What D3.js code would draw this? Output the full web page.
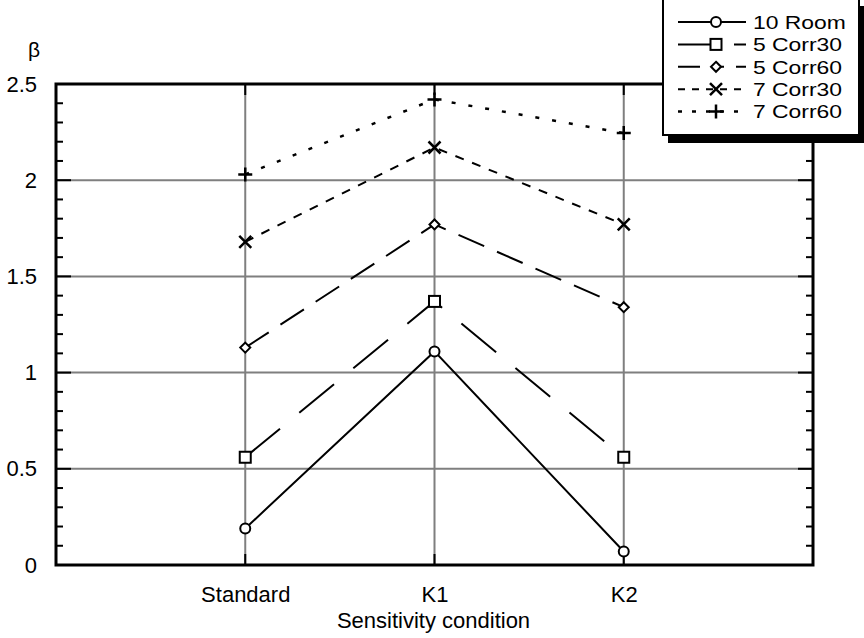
<!DOCTYPE html>
<html><head><meta charset="utf-8">
<script src="https://cdn.jsdelivr.net/npm/d3@7"></script>
<style>body{margin:0;background:#fff}svg{display:block}text{font-family:"Liberation Sans",Arial,sans-serif;fill:#000}</style>
</head><body><svg id="c" width="864" height="638"></svg>
<script>
const categories = ["Standard", "K1", "K2"];
const seriesNames = ["10 Room", "5 Corr30", "5 Corr60", "7 Corr30", "7 Corr60"];
const room10   = [0.19, 1.11, 0.07];
const corr30_5 = [0.56, 1.37, 0.56];
const corr60_5 = [1.13, 1.77, 1.34];
const corr30_7 = [1.68, 2.17, 1.77];
const corr60_7 = [2.03, 2.42, 2.245];
const yTicks = [0, 0.5, 1, 1.5, 2, 2.5];
const seriesValues = [room10, corr30_5, corr60_5, corr30_7, corr60_7];
const markers = ["circle", "square", "diamond", "x", "plus"];
const dashes = [null, "45,25", "28,14", "9,9", "4,13"];
const legendDashes = [null, "34,22,7,0", "22,12,12,12", "7,7", "4,10"];

const svg = d3.select("#c");
const L = 56, R = 813, T = 84, B = 565;
const x = d3.scaleLinear().domain([0, categories.length + 1]).range([L, R]);
const y = d3.scaleLinear().domain([0, 2.5]).range([B, T]);
const FS = 22;

// grid
const grid = svg.append("g").attr("stroke", "#7f7f7f").attr("stroke-width", 2);
categories.forEach((c, i) => grid.append("line").attr("x1", x(i+1)).attr("x2", x(i+1)).attr("y1", T).attr("y2", B));
yTicks.slice(1, -1).forEach(v => grid.append("line").attr("x1", L).attr("x2", R).attr("y1", y(v)).attr("y2", y(v)));

// minor/major ticks on left and right, inward
const minor = d3.range(0, 2.5001, 0.1);
const tk = svg.append("g").attr("stroke", "#000").attr("stroke-width", 2);
minor.forEach(v => {
  const major = Math.abs(v*2 - Math.round(v*2)) < 1e-6;
  const len = major ? 15 : 7;
  tk.append("line").attr("x1", L).attr("x2", L+len).attr("y1", y(v)).attr("y2", y(v));
  tk.append("line").attr("x1", R).attr("x2", R-len).attr("y1", y(v)).attr("y2", y(v));
});
categories.forEach((c, i) => {
  tk.append("line").attr("x1", x(i+1)).attr("x2", x(i+1)).attr("y1", B).attr("y2", B-11);
  tk.append("line").attr("x1", x(i+1)).attr("x2", x(i+1)).attr("y1", T).attr("y2", T+11);
});
// frame
svg.append("rect").attr("x", L).attr("y", T).attr("width", R-L).attr("height", B-T)
  .attr("fill", "none").attr("stroke", "#000").attr("stroke-width", 3);

// axes via d3 for labels
const yAxis = d3.axisLeft(y).tickValues(yTicks).tickFormat(d3.format("")).tickSize(0).tickPadding(19);
const ya = svg.append("g").attr("transform", `translate(${L},0)`).call(yAxis);
ya.select(".domain").remove();
ya.selectAll("text").attr("font-size", FS).attr("font-family", "Liberation Sans, Arial, sans-serif");

const xAxis = d3.axisBottom(x).tickValues([1,2,3]).tickFormat(d => categories[d-1]).tickSize(0).tickPadding(21);
const xa = svg.append("g").attr("transform", `translate(0,${B})`).call(xAxis);
xa.select(".domain").remove();
xa.selectAll("text").attr("font-size", FS).attr("font-family", "Liberation Sans, Arial, sans-serif");

svg.append("text").attr("x", (L+R)/2 - 1).attr("y", 628).attr("text-anchor", "middle").attr("font-size", FS).text("Sensitivity condition");
svg.append("text").attr("x", 34).attr("y", 57).attr("text-anchor", "middle").attr("font-size", 21).attr("font-family", "DejaVu Serif, serif").text("β");

function drawMarker(g, type, cx, cy) {
  const m = g.append("g").attr("stroke", "#000").attr("stroke-width", 2).attr("fill", "#fff");
  if (type === "circle") m.append("circle").attr("cx", cx).attr("cy", cy).attr("r", 5);
  else if (type === "square") m.append("rect").attr("x", cx-5.5).attr("y", cy-5.5).attr("width", 11).attr("height", 11);
  else if (type === "diamond") m.append("path").attr("d", `M${cx},${cy-5}L${cx+5},${cy}L${cx},${cy+5}L${cx-5},${cy}Z`);
  else if (type === "x") m.append("path").attr("fill", "none").attr("stroke-width", 2.5).attr("d", `M${cx-6},${cy-6}L${cx+6},${cy+6}M${cx-6},${cy+6}L${cx+6},${cy-6}`);
  else if (type === "plus") m.append("path").attr("fill", "none").attr("stroke-width", 2.5).attr("d", `M${cx-7},${cy}L${cx+7},${cy}M${cx},${cy-7}L${cx},${cy+7}`);
}

const line = d3.line().x((d, i) => x(i+1)).y(d => y(d));
seriesValues.forEach((vals, k) => {
  const g = svg.append("g");
  g.append("path").datum(vals).attr("d", line).attr("fill", "none").attr("stroke", "#000")
    .attr("stroke-width", k === 4 ? 2.5 : 2).attr("stroke-dasharray", dashes[k]);
  vals.forEach((v, i) => drawMarker(g, markers[k], x(i+1), y(v)));
});

// legend
const lg = svg.append("g");
lg.append("rect").attr("x", 668).attr("y", 6).attr("width", 196).attr("height", 137).attr("fill", "#000");
lg.append("rect").attr("x", 663).attr("y", -2).attr("width", 196).attr("height", 137).attr("fill", "#fff").attr("stroke", "#000").attr("stroke-width", 2);
seriesNames.forEach((n, k) => {
  const cy = 22 + k * 22.4;
  lg.append("line").attr("x1", 678).attr("x2", 746).attr("y1", cy).attr("y2", cy).attr("stroke", "#000")
    .attr("stroke-width", k === 4 ? 2.5 : 2).attr("stroke-dasharray", legendDashes[k]);
  drawMarker(lg, markers[k], 716, cy);
  const t = lg.append("text").attr("x", 753).attr("y", cy).attr("dy", "0.36em").attr("font-size", FS).text(n);
  const w = t.node().getComputedTextLength();
  t.attr("font-size", 19).attr("textLength", w * 1.04).attr("lengthAdjust", "spacingAndGlyphs");
});
</script></body></html>
